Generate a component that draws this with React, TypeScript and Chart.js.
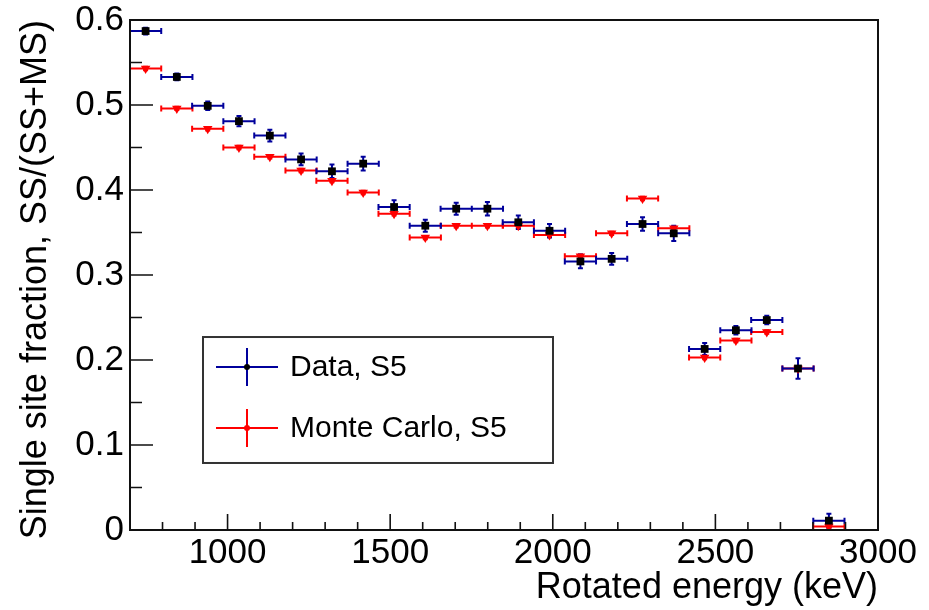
import React, { useEffect, useRef } from 'react';
import { Chart, registerables } from 'chart.js';

Chart.register(...registerables);

// Bin centres (keV)
const ENERGY = [748, 844, 939, 1035, 1130, 1226, 1321, 1417, 1512, 1608, 1703, 1799, 1894, 1990, 2085, 2181, 2276, 2372, 2467, 2563, 2658, 2754, 2849];
// Half bin width (keV), used for the horizontal error bars
const BIN_HALF = [48, 48, 48, 48, 48, 48, 48, 48, 48, 48, 48, 48, 48, 48, 48, 48, 48, 48, 48, 48, 48, 48, 48];

const DATA_SSF = [0.587, 0.533, 0.499, 0.481, 0.464, 0.436, 0.422, 0.431, 0.380, 0.358, 0.378, 0.378, 0.362, 0.352, 0.316, 0.319, 0.360, 0.349, 0.213, 0.235, 0.247, 0.190, 0.011];
const DATA_ERR = [0.004, 0.004, 0.005, 0.006, 0.007, 0.007, 0.008, 0.008, 0.008, 0.007, 0.007, 0.008, 0.008, 0.008, 0.008, 0.007, 0.008, 0.009, 0.007, 0.005, 0.005, 0.012, 0.008];

const MC_SSF = [0.543, 0.496, 0.472, 0.450, 0.439, 0.423, 0.411, 0.397, 0.372, 0.344, 0.358, 0.358, 0.358, 0.347, 0.322, 0.349, 0.390, 0.355, 0.203, 0.223, 0.233, 0.190, 0.004];
const MC_ERR = [0.002, 0.002, 0.002, 0.002, 0.002, 0.002, 0.002, 0.002, 0.002, 0.002, 0.002, 0.002, 0.002, 0.002, 0.002, 0.002, 0.002, 0.002, 0.002, 0.002, 0.002, 0.002, 0.002];

const X_TICKS = [1000, 1500, 2000, 2500, 3000];
const X_MINOR = [800, 900, 1100, 1200, 1300, 1400, 1600, 1700, 1800, 1900, 2100, 2200, 2300, 2400, 2600, 2700, 2800, 2900];
const Y_TICKS = [0, 0.1, 0.2, 0.3, 0.4, 0.5, 0.6];
const Y_MINOR = [0.05, 0.15, 0.25, 0.35, 0.45, 0.55];

const LEGEND_LABELS = ['Data, S5', 'Monte Carlo, S5'];

const BLUE = '#00009c';
const RED = '#ff0000';
const FONT = "'Liberation Sans', Arial, Helvetica, sans-serif";

const SERIES = [
  { y: DATA_SSF, err: DATA_ERR, color: BLUE },
  { y: MC_SSF, err: MC_ERR, color: RED },
];

const errorBarPlugin = {
  id: 'errorBars',
  beforeDatasetsDraw(chart: any) {
    const { ctx, scales } = chart;
    const xs = scales.x;
    const ys = scales.y;
    ctx.save();
    // MC first, data on top
    for (let s = SERIES.length - 1; s >= 0; s--) {
      const ser = SERIES[s];
      ctx.strokeStyle = ser.color;
      ctx.lineWidth = 2;
      ctx.beginPath();
      for (let i = 0; i < ENERGY.length; i++) {
        const x = xs.getPixelForValue(ENERGY[i]);
        const xl = xs.getPixelForValue(ENERGY[i] - BIN_HALF[i]);
        const xr = xs.getPixelForValue(ENERGY[i] + BIN_HALF[i]);
        const y = ys.getPixelForValue(ser.y[i]);
        const yl = ys.getPixelForValue(ser.y[i] - ser.err[i]);
        const yh = ys.getPixelForValue(ser.y[i] + ser.err[i]);
        ctx.moveTo(xl, y); ctx.lineTo(xr, y);
        ctx.moveTo(xl, y - 3); ctx.lineTo(xl, y + 3);
        ctx.moveTo(xr, y - 3); ctx.lineTo(xr, y + 3);
        ctx.moveTo(x, yl); ctx.lineTo(x, yh);
        ctx.moveTo(x - 2.5, yl); ctx.lineTo(x + 2.5, yl);
        ctx.moveTo(x - 2.5, yh); ctx.lineTo(x + 2.5, yh);
      }
      ctx.stroke();
    }
    ctx.restore();
  },
};

const framePlugin = {
  id: 'rootFrame',
  afterDraw(chart: any) {
    const { ctx, chartArea: a, scales } = chart;
    const xs = scales.x;
    const ys = scales.y;
    ctx.save();
    ctx.strokeStyle = '#111';
    ctx.lineWidth = 2;
    ctx.strokeRect(a.left, a.top, a.right - a.left, a.bottom - a.top);
    ctx.lineWidth = 1.6;
    ctx.beginPath();
    X_TICKS.forEach((v) => { const p = xs.getPixelForValue(v); ctx.moveTo(p, a.bottom); ctx.lineTo(p, a.bottom - 16); });
    X_MINOR.forEach((v) => { const p = xs.getPixelForValue(v); ctx.moveTo(p, a.bottom); ctx.lineTo(p, a.bottom - 8); });
    Y_TICKS.forEach((v) => { const p = ys.getPixelForValue(v); ctx.moveTo(a.left, p); ctx.lineTo(a.left + 23, p); });
    Y_MINOR.forEach((v) => { const p = ys.getPixelForValue(v); ctx.moveTo(a.left, p); ctx.lineTo(a.left + 12, p); });
    ctx.stroke();

    // Legend box
    const w = a.right - a.left;
    const h = a.bottom - a.top;
    const bl = a.left + 0.0976 * w;
    const br = a.left + 0.5655 * w;
    const bt = a.top + 0.6216 * h;
    const bb = a.top + 0.8686 * h;
    ctx.fillStyle = '#ffffff';
    ctx.fillRect(bl, bt, br - bl, bb - bt);
    ctx.strokeStyle = '#333';
    ctx.lineWidth = 2;
    ctx.strokeRect(bl, bt, br - bl, bb - bt);
    const rows = [0.238, 0.722];
    LEGEND_LABELS.forEach((label, k) => {
      const cy = bt + rows[k] * (bb - bt);
      const cx = bl + 44;
      const col = SERIES[k].color;
      ctx.strokeStyle = col;
      ctx.lineWidth = 2;
      ctx.beginPath();
      ctx.moveTo(cx - 31, cy); ctx.lineTo(cx + 31, cy);
      ctx.moveTo(cx, cy - 19); ctx.lineTo(cx, cy + 19);
      ctx.stroke();
      ctx.fillStyle = k === 0 ? '#000' : RED;
      ctx.beginPath();
      ctx.arc(cx, cy, 3, 0, Math.PI * 2);
      ctx.fill();
      ctx.fillStyle = '#000';
      ctx.font = `30px ${FONT}`;
      ctx.textAlign = 'left';
      ctx.textBaseline = 'middle';
      ctx.fillText(label, bl + 87, cy + 1);
    });
    ctx.restore();
  },
};

export default function App() {
  const ref = useRef<HTMLCanvasElement | null>(null);
  useEffect(() => {
    if (!ref.current) return;
    const points = (ys: number[]) => ENERGY.map((x, i) => ({ x, y: ys[i] }));
    const chart = new Chart(ref.current, {
      type: 'scatter',
      data: {
        datasets: [
          {
            label: LEGEND_LABELS[0],
            data: points(DATA_SSF),
            pointStyle: 'rect',
            pointRadius: 5.5,
            backgroundColor: '#000',
            borderColor: '#000',
            borderWidth: 0,
          },
          {
            label: LEGEND_LABELS[1],
            data: points(MC_SSF),
            pointStyle: 'triangle',
            rotation: 180,
            pointRadius: 5.5,
            backgroundColor: RED,
            borderColor: RED,
            borderWidth: 0,
          },
        ],
      },
      options: {
        animation: false,
        responsive: false,
        events: [],
        layout: { padding: { top: 20, right: 51, left: 0, bottom: 0 } },
        plugins: { legend: { display: false }, tooltip: { enabled: false } },
        scales: {
          x: {
            type: 'linear',
            min: 700,
            max: 3000,
            grid: { display: false, drawTicks: false },
            border: { display: false },
            afterBuildTicks: (s: any) => { s.ticks = X_TICKS.map((value) => ({ value })); },
            afterFit: (s: any) => { s.height = 80; s.paddingLeft = 0; s.paddingRight = 0; },
            ticks: {
              padding: 2,
              color: '#000',
              maxRotation: 0,
              autoSkip: false,
              font: { family: FONT, size: 35 },
              callback: (v: any) => String(v),
            },
            title: {
              display: true,
              text: 'Rotated energy (keV)',
              align: 'end',
              color: '#000',
              padding: { top: 0, bottom: 0 },
              font: { family: FONT, size: 36 },
            },
          },
          y: {
            type: 'linear',
            min: 0,
            max: 0.6,
            grid: { display: false, drawTicks: false },
            border: { display: false },
            afterBuildTicks: (s: any) => { s.ticks = Y_TICKS.map((value) => ({ value })); },
            afterFit: (s: any) => { s.width = 130; s.paddingTop = 0; s.paddingBottom = 0; },
            ticks: {
              padding: 6,
              color: '#000',
              autoSkip: false,
              font: { family: FONT, size: 35 },
              callback: (v: any) => String(Math.round(Number(v) * 10) / 10),
            },
            title: {
              display: true,
              text: 'Single site fraction, SS/(SS+MS)',
              align: 'end',
              color: '#000',
              padding: { top: 14, bottom: 0 },
              font: { family: FONT, size: 36 },
            },
          },
        },
      },
      plugins: [errorBarPlugin, framePlugin],
    } as any);
    return () => chart.destroy();
  }, []);
  return (
    <div style={{ position: 'fixed', left: 0, top: 0, width: 929, height: 610, background: '#fff' }}>
      <canvas ref={ref} width={929} height={610} style={{ display: 'block' }} />
    </div>
  );
}
